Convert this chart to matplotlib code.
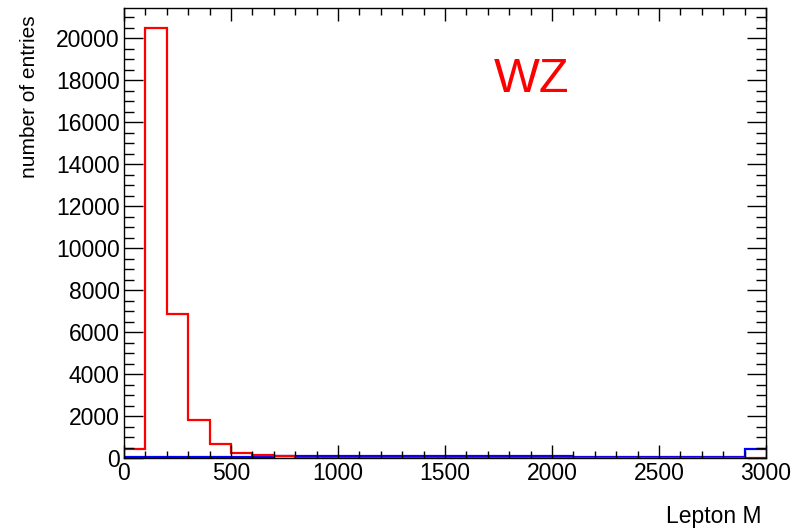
import matplotlib.pyplot as plt
import matplotlib as mpl
import numpy as np
from matplotlib.ticker import MultipleLocator

mpl.rcParams['font.family'] = ['Liberation Sans', 'DejaVu Sans']

# bin edges: 30 bins of width 100 from 0 to 3000
bin_edges = np.arange(0, 3001, 100)

# red histogram (WZ)
red_counts = [440, 20500, 6850, 1800, 650, 250, 130, 80,
              20, 20, 20, 20, 20, 20, 20, 20, 20, 20, 20, 20,
              20, 20, 20, 20, 20, 20, 20, 20, 20, 20]

# blue histogram
blue_counts = [60, 60, 60, 60, 60, 60, 60, 90,
               90, 90, 90, 90, 90, 90, 90, 90, 90, 90, 90, 90,
               90, 40, 40, 40, 40, 40, 40, 40, 40, 450]

x_ticks = [0, 500, 1000, 1500, 2000, 2500, 3000]
y_ticks = [0, 2000, 4000, 6000, 8000, 10000, 12000, 14000, 16000, 18000, 20000]


def draw():
    fig = plt.figure(figsize=(8.06, 5.28), dpi=100)
    ax = fig.add_axes([124 / 806, 1 - 458 / 528, 642 / 806, 450 / 528])

    ax.stairs(blue_counts, bin_edges, baseline=None, color='#0000ff', linewidth=1.6)
    ax.stairs(red_counts, bin_edges, baseline=None, color='#ff0000', linewidth=1.6)

    ax.set_xlim(0, 3000)
    ax.set_ylim(0, 21430)

    ax.set_xticks(x_ticks)
    ax.set_yticks(y_ticks)
    ax.xaxis.set_minor_locator(MultipleLocator(100))
    ax.yaxis.set_minor_locator(MultipleLocator(500))

    ax.tick_params(axis='both', which='both', direction='in', top=True, right=True,
                   labelsize=16.5, width=1, color='black')
    ax.tick_params(axis='x', which='major', length=9.5, pad=3)
    ax.tick_params(axis='x', which='minor', length=5)
    ax.tick_params(axis='y', which='major', length=14, pad=3)
    ax.tick_params(axis='y', which='minor', length=7)

    for s in ax.spines.values():
        s.set_linewidth(1)
        s.set_color('black')

    fig.text(30 / 806, 1 - 15 / 528, 'number of entries', rotation=90,
             ha='center', va='top', fontsize=15)
    fig.text(762 / 806, 1 - 516 / 528, 'Lepton M', ha='right', va='center', fontsize=16.5)
    fig.text(532 / 806, 1 - 80 / 528, 'WZ', color='#ff0000', ha='center', va='center',
             fontsize=35)

    fig.savefig('out.png', dpi=100)


if __name__ == '__main__':
    draw()
